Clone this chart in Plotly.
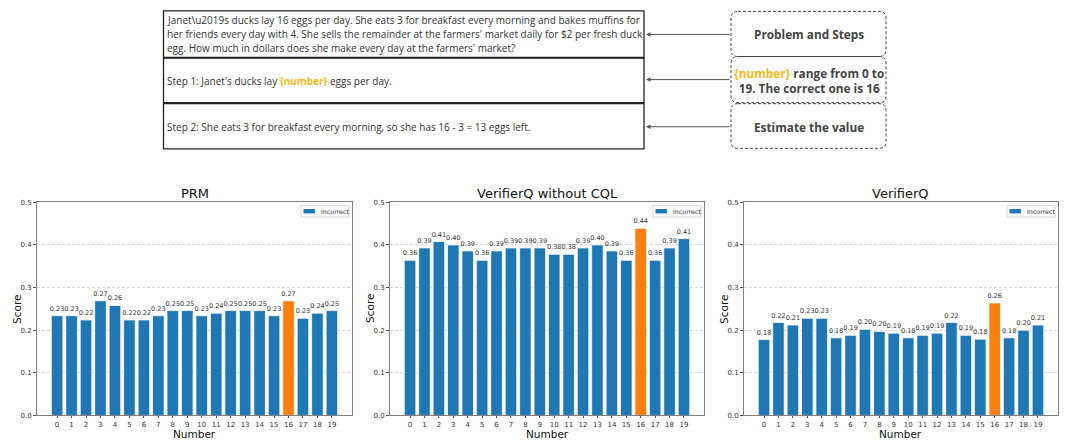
import plotly.graph_objects as go

W, H = 1065, 442

numbers = list(range(20))
tick_labels = [str(n) for n in numbers]
correct_number = 16

prm_scores = [0.234, 0.234, 0.224, 0.269, 0.258, 0.224, 0.224, 0.234, 0.246, 0.246,
              0.234, 0.240, 0.246, 0.246, 0.246, 0.234, 0.269, 0.228, 0.240, 0.246]
vq_nocql_scores = [0.364, 0.393, 0.408, 0.400, 0.386, 0.364, 0.386, 0.393, 0.393, 0.393,
                   0.378, 0.378, 0.393, 0.400, 0.386, 0.364, 0.439, 0.364, 0.393, 0.415]
vq_scores = [0.178, 0.218, 0.212, 0.228, 0.228, 0.182, 0.188, 0.202, 0.197, 0.193,
             0.182, 0.188, 0.193, 0.218, 0.188, 0.179, 0.264, 0.182, 0.200, 0.212]

panel_titles = ["PRM", "VerifierQ without CQL", "VerifierQ"]
series = [prm_scores, vq_nocql_scores, vq_scores]
legend_label = "Incorrect"

problem_lines = [
    "Janet\\u2019s ducks lay 16 eggs per day. She eats 3 for breakfast every morning and bakes muffins for",
    "her friends every day with 4. She sells the remainder at the farmers' market daily for $2 per fresh duck",
    "egg. How much in dollars does she make every day at the farmers' market?",
]
step1_text = "Step 1: Janet's ducks lay <span style='color:#f7b917'><b>{number}</b></span> eggs per day."
step2_text = "Step 2: She eats 3 for breakfast every morning, so she has 16 - 3 = 13 eggs left."
side_texts = [
    "<b>Problem and Steps</b>",
    "<b><span style='color:#f7b917'>{number}</span> range from 0 to<br>19. The correct one is 16</b>",
    "<b>Estimate the value</b>",
]

BLUE = "#1f77b4"
ORANGE = "#ff7f0e"


def px(x):
    return x / W


def py(y):
    return 1 - y / H


x_px = [(37, 352), (390, 704), (744, 1058)]
x_domains = [[px(a), px(b)] for a, b in x_px]
y_domain = [py(419), py(202)]

fig = go.Figure()
layout = {}
annotations = []
shapes = []

for i, (title, vals) in enumerate(zip(panel_titles, series)):
    sfx = "" if i == 0 else str(i + 1)
    colors = [ORANGE if n == correct_number else BLUE for n in numbers]
    fig.add_trace(go.Bar(
        x=numbers, y=vals, name=legend_label,
        marker=dict(color=colors, line=dict(color="rgba(255,255,255,0.75)", width=1)),
        width=0.8,
        texttemplate="%{y:.2f}", textposition="outside", cliponaxis=False,
        constraintext="none",
        textfont=dict(family="DejaVu Sans", size=6.5, color="#333"),
        xaxis="x" + sfx, yaxis="y" + sfx,
        showlegend=False, hoverinfo="skip",
    ))
    layout["xaxis" + sfx] = dict(
        domain=x_domains[i], anchor="y" + sfx, range=[-1.39, 20.39],
        tickmode="array", tickvals=numbers, ticktext=tick_labels,
        showline=True, mirror=True, linecolor="#7f7f7f", linewidth=1,
        ticks="outside", ticklen=2, tickcolor="#555", showgrid=False, zeroline=False,
        tickfont=dict(family="DejaVu Sans", size=7, color="#333"),
    )
    layout["yaxis" + sfx] = dict(
        domain=y_domain, anchor="x" + sfx, range=[0, 0.5],
        tickmode="array", tickvals=[0, 0.1, 0.2, 0.3, 0.4, 0.5],
        ticktext=["0.0", "0.1", "0.2", "0.3", "0.4", "0.5"],
        showline=True, mirror=True, linecolor="#7f7f7f", linewidth=1,
        ticks="outside", ticklen=3, tickcolor="#555",
        showgrid=True, gridcolor="#d8d8d8", griddash="3px,2px", gridwidth=0.7, zeroline=False,
        tickfont=dict(family="DejaVu Sans", size=7, color="#333"),
    )
    # compact legend box (matplotlib style)
    right = x_px[i][1] - 3
    left = right - 48
    shapes.append(dict(type="rect", xref="paper", yref="paper",
                       x0=px(left), x1=px(right), y0=py(217), y1=py(205.5),
                       fillcolor="white", line=dict(color="#d5d5d5", width=1), layer="above"))
    shapes.append(dict(type="rect", xref="paper", yref="paper",
                       x0=px(left + 2.5), x1=px(left + 14), y0=py(213.3), y1=py(208.8),
                       fillcolor=BLUE, line=dict(width=0), layer="above"))
    annotations.append(dict(text=legend_label, x=px(left + 17.5), y=py(211), xref="paper", yref="paper",
                            showarrow=False, xanchor="left", yanchor="middle",
                            font=dict(family="DejaVu Sans", size=6.3, color="#333")))

    cx = (x_domains[i][0] + x_domains[i][1]) / 2
    annotations.append(dict(text=title, x=cx, y=py(193), xref="paper", yref="paper",
                            showarrow=False, font=dict(family="DejaVu Sans", size=13, color="#111"),
                            xanchor="center", yanchor="middle"))
    annotations.append(dict(text="Number", x=cx, y=py(442), xref="paper", yref="paper",
                            showarrow=False, font=dict(family="DejaVu Sans", size=10.5, color="#111"),
                            xanchor="center", yanchor="bottom", yshift=-3, borderpad=0))
    annotations.append(dict(text="Score", x=x_domains[i][0] - px(20), y=(y_domain[0] + y_domain[1]) / 2,
                            xref="paper", yref="paper", textangle=-90,
                            showarrow=False, font=dict(family="DejaVu Sans", size=10.5, color="#111"),
                            xanchor="center", yanchor="middle"))

# Top diagram: solid boxes
box_rows = [(7, 54.5), (55, 100.5), (101.5, 147.5)]
for (t, b) in box_rows:
    shapes.append(dict(type="rect", xref="paper", yref="paper",
                       x0=px(163.5), x1=px(644), y0=py(b), y1=py(t),
                       line=dict(color="#222", width=1.3)))

TXT = "Open Sans"
for k, line in enumerate(problem_lines):
    annotations.append(dict(text=line, x=px(165), y=py(16 + k * 14.5), xref="paper", yref="paper",
                            showarrow=False, xanchor="left", yanchor="middle",
                            font=dict(family=TXT, size=10, color="#333")))
annotations.append(dict(text=step1_text, x=px(165), y=py(78), xref="paper", yref="paper",
                        showarrow=False, xanchor="left", yanchor="middle",
                        font=dict(family=TXT, size=10, color="#333")))
annotations.append(dict(text=step2_text, x=px(165), y=py(125), xref="paper", yref="paper",
                        showarrow=False, xanchor="left", yanchor="middle",
                        font=dict(family=TXT, size=10, color="#333")))

# Dashed rounded boxes on the right
side_rows = [(7.5, 53.5), (53.5, 100.5), (101.5, 147)]
rxp, ryp = 7, 7
for (t, b) in side_rows:
    x0, x1 = 731, 886
    pts = (f"M {px(x0 + rxp)},{py(t)} L {px(x1 - rxp)},{py(t)} Q {px(x1)},{py(t)} {px(x1)},{py(t + ryp)} "
           f"L {px(x1)},{py(b - ryp)} Q {px(x1)},{py(b)} {px(x1 - rxp)},{py(b)} "
           f"L {px(x0 + rxp)},{py(b)} Q {px(x0)},{py(b)} {px(x0)},{py(b - ryp)} "
           f"L {px(x0)},{py(t + ryp)} Q {px(x0)},{py(t)} {px(x0 + rxp)},{py(t)} Z")
    shapes.append(dict(type="path", xref="paper", yref="paper", path=pts,
                       line=dict(color="#444", width=1, dash="3px,2px")))

side_y = [31, 78, 125]
for txt, yy in zip(side_texts, side_y):
    annotations.append(dict(text=txt, x=px(808.5), y=py(yy), xref="paper", yref="paper",
                            showarrow=False, xanchor="center", yanchor="middle", align="center",
                            font=dict(family=TXT, size=11.8, color="#444")))

# Arrows from dashed boxes to text boxes
for yy in [31, 77, 125]:
    annotations.append(dict(text="", x=px(646), y=py(yy), xref="paper", yref="paper",
                            ax=85, ay=0, axref="pixel", ayref="pixel",
                            showarrow=True, arrowhead=2, arrowsize=0.9, arrowwidth=1,
                            arrowcolor="#555"))

fig.update_layout(
    width=W, height=H,
    margin=dict(l=0, r=0, t=0, b=0),
    paper_bgcolor="white", plot_bgcolor="white",
    bargap=0.2, showlegend=False, hovermode=False,
    annotations=annotations, shapes=shapes,
    **layout,
)

fig.write_html("out.html", config={"displayModeBar": False},
               post_script="document.body.style.margin='0';")
